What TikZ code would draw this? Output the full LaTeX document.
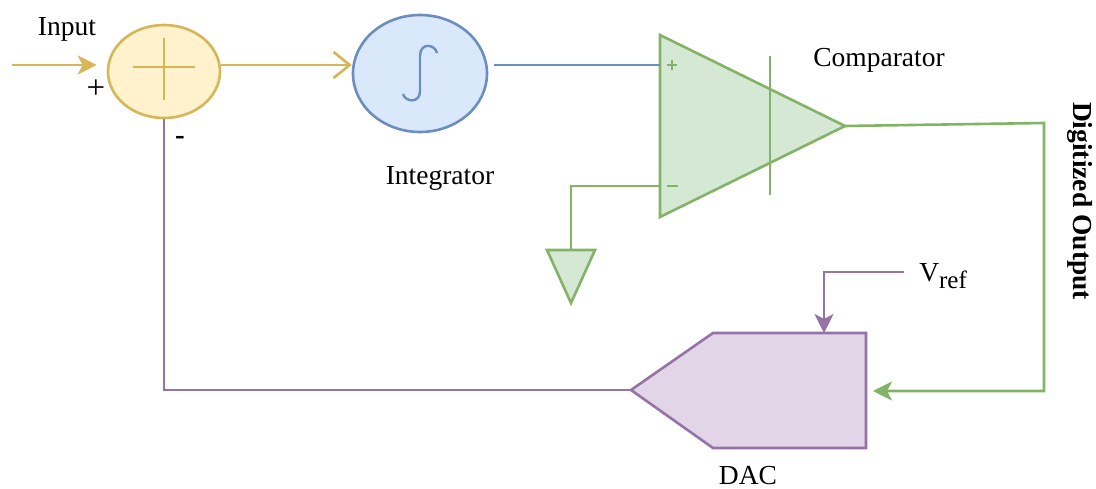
\documentclass[tikz,border=0pt]{standalone}
\usepackage{fontspec}
\setmainfont{Liberation Serif}
\usetikzlibrary{shapes.geometric,arrows.meta}
\definecolor{sumfill}{HTML}{FFF2CC}
\definecolor{sumline}{HTML}{D6B656}
\definecolor{intfill}{HTML}{DAE8FC}
\definecolor{intline}{HTML}{6C8EBF}
\definecolor{cmpfill}{HTML}{D5E8D4}
\definecolor{cmpline}{HTML}{82B366}
\definecolor{dacfill}{HTML}{E1D5E7}
\definecolor{dacline}{HTML}{9673A6}
\begin{document}
\begin{tikzpicture}[x=1pt,y=-1pt,line width=2.6pt,
  txt/.style={font=\fontsize{27.5}{30}\selectfont, inner sep=0pt, text=black},
  fillarrow/.style={-{Stealth[length=19pt,width=19pt,inset=5pt]}},
  openarrow/.style={-{Straight Barb[length=16pt,width=26pt]}},
  blob/.style={ellipse, inner sep=0pt}]
\useasboundingbox (0,0) rectangle (1096,489);
\fill[white] (0,0) rectangle (1096,489);

% coordinates
\coordinate (row) at (0,65);
\coordinate (in) at (12,65);
\coordinate (oppos) at (660,65);
\coordinate (opneg) at (660,186);
\coordinate (opout) at (845,126);
\coordinate (gnd) at (571,250);
\coordinate (oc) at (1044,123);
\coordinate (dactop) at (824,333);
\coordinate (dacout) at (631,390);
\coordinate (dacin) at (866,391);
\coordinate (vref) at (904,272);

% summing junction
\node[blob, draw=sumline, fill=sumfill, minimum width=112pt, minimum height=93pt] (sum) at (164,71.5) {};
\draw[sumline] (133,67) -- (195,67) (164,38) -- (164,100);

% integrator
\node[blob, draw=intline, fill=intfill, minimum width=134pt, minimum height=117pt] (int) at (420,73.5) {};
\draw[intline, line width=2.4pt] (437,53) .. controls (435,44) and (420,42) .. (420,56) -- (420,91) .. controls (420,104) and (405,102) .. (403,94);

% comparator
\filldraw[draw=cmpline, fill=cmpfill, line join=miter] (660,35) -- (845,126) -- (660,217) -- cycle;
\draw[cmpline] (770,56) -- (770,195);
\draw[cmpline, line width=1.8pt] (667,65) -- (677,65) (672,60) -- (672,70);
\draw[cmpline, line width=1.8pt] (667,186) -- (678,186);

% ground
\filldraw[draw=cmpline, fill=cmpfill] (547,250) -- (595,250) -- (571,303) -- cycle;

% DAC
\filldraw[draw=dacline, fill=dacfill] (866,333) -- (713,333) -- (631,390) -- (713,448) -- (866,448) -- cycle;

% connectors
\draw[sumline, fillarrow, shorten >=10pt] (in) -- (sum.west |- row);
\draw[sumline, openarrow] (sum.east |- row) -- (int.west |- row);
\draw[intline, shorten <=6pt] (int.east |- row) -- (oppos);
\draw[cmpline] (opneg) -| (gnd);
\draw[cmpline, fillarrow, shorten >=7pt] (opout) -- (oc) |- (dacin);
\draw[dacline, fillarrow] (vref) -| (dactop);
\draw[dacline] (dacout) -| (sum.south);

% labels
\node[txt] (linput) at (67,29) {Input};
\node[txt, font=\fontsize{33}{34}\selectfont, anchor=base] (lplus) at (96,99) {+};
\node[txt, font=\fontsize{29}{30}\selectfont\bfseries, anchor=base] (lminus) at (180,145) {-};
\node[txt, anchor=base] (lint) at (440,185) {Integrator};
\node[txt, anchor=base] (lcmp) at (879,67) {Comparator};
\node[txt, anchor=base] (ldac) at (748,484) {DAC};
\node[txt, anchor=base west] (lvref) at (918,282) {V\raisebox{-7pt}{\fontsize{25}{25}\selectfont ref}};
\node[txt, font=\fontsize{27.5}{30}\selectfont\bfseries, rotate=-90] (ldig) at (1080,201) {Digitized Output};
\end{tikzpicture}
\end{document}
